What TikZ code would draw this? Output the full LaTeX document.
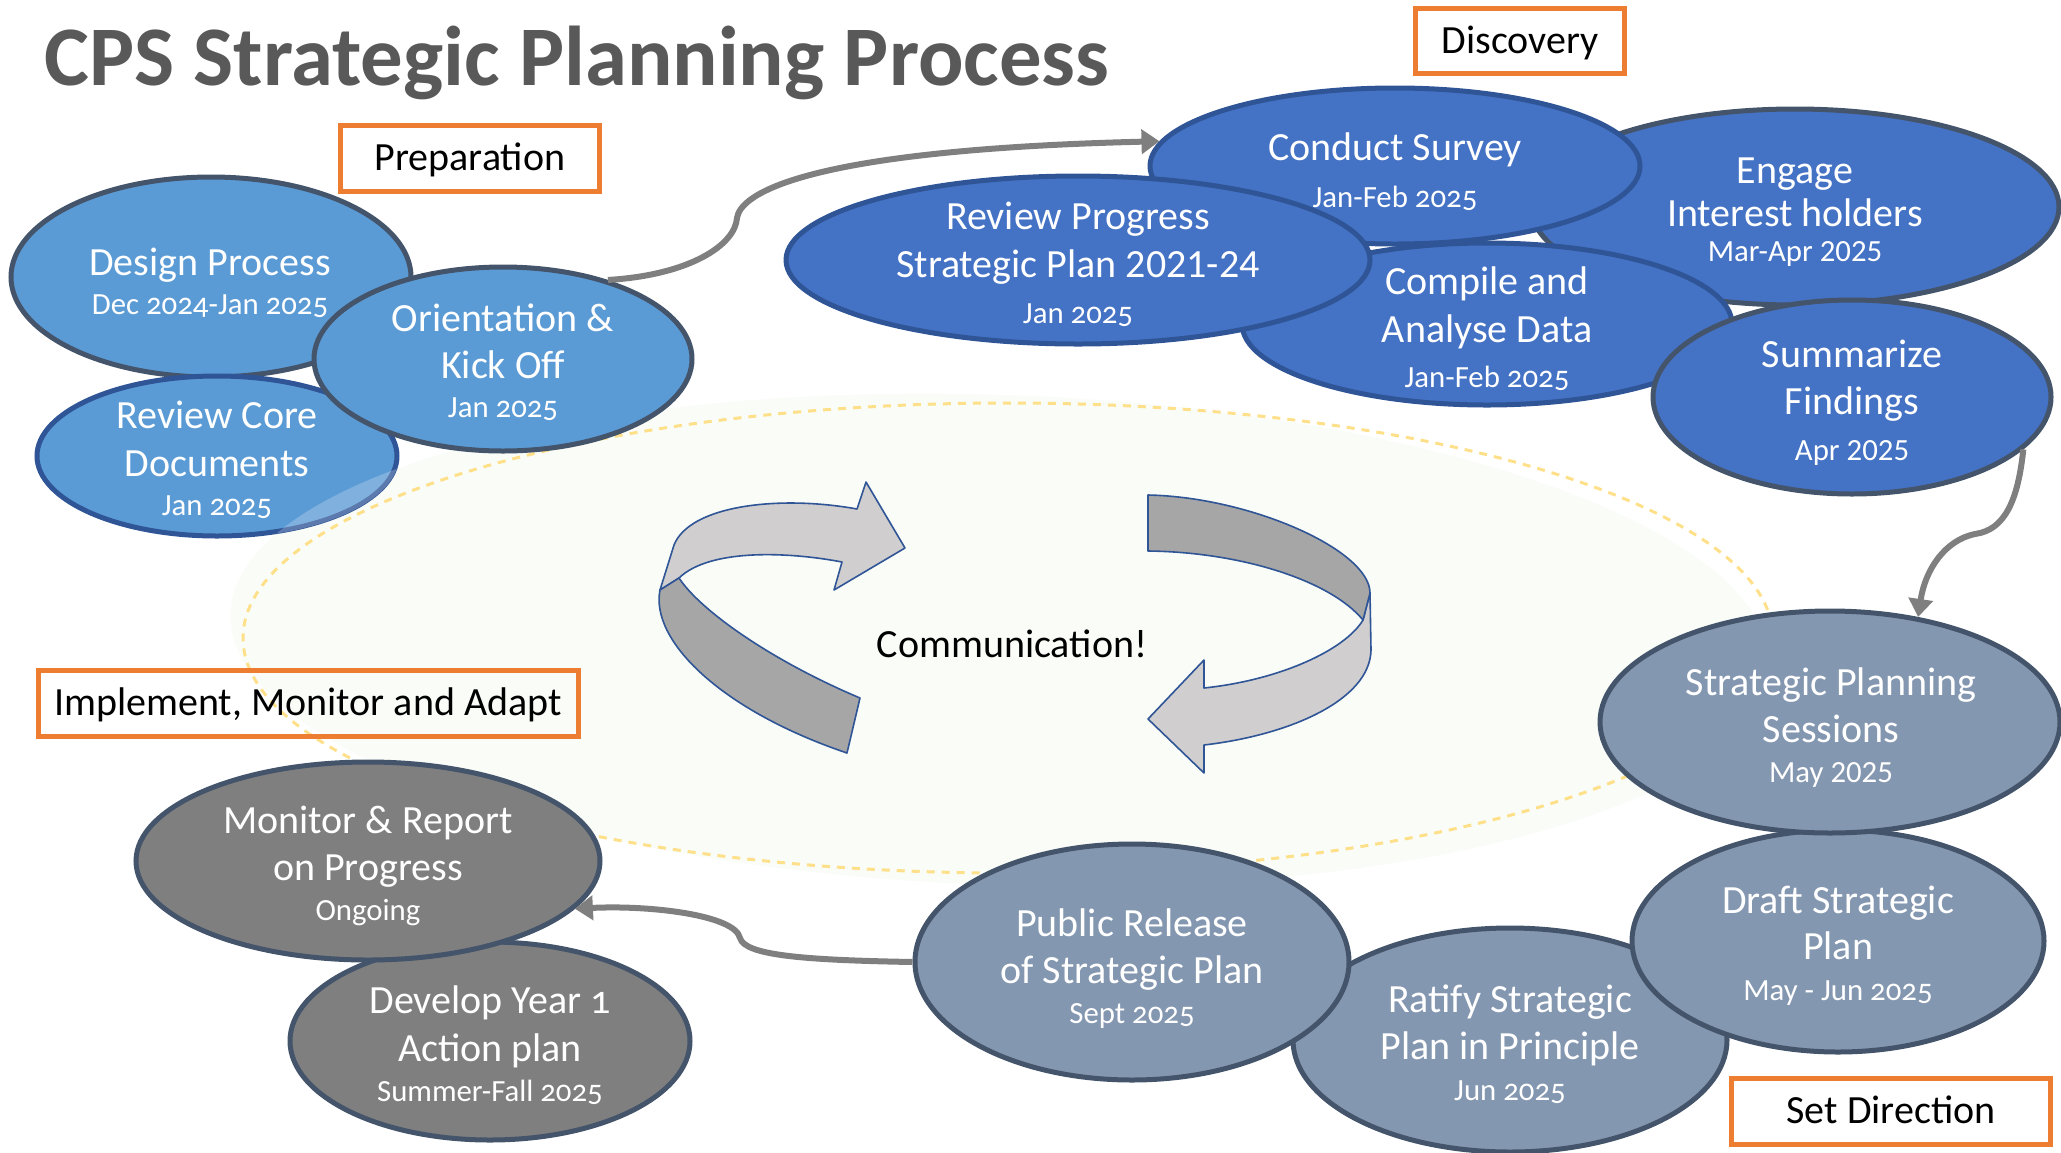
\documentclass[tikz,border=0pt]{standalone}
\usepackage{fontspec}
\setmainfont{Carlito}
\newfontfamily\oldnum[Numbers=OldStyle]{Carlito}
\usetikzlibrary{shapes.geometric,arrows.meta}
\definecolor{prepfill}{HTML}{5B9BD5}
\definecolor{discfill}{HTML}{4472C4}
\definecolor{setfill}{HTML}{8497B0}
\definecolor{implfill}{HTML}{7F7F7F}
\definecolor{slate}{HTML}{44546A}
\definecolor{navy}{HTML}{2F5597}
\definecolor{orangeb}{HTML}{ED7D31}
\definecolor{conn}{HTML}{7F7F7F}
\definecolor{titlec}{HTML}{595959}
\definecolor{dashc}{HTML}{FFE08A}
\definecolor{palebg}{RGB}{249,252,247}
\definecolor{arrlight}{HTML}{D0CECE}
\definecolor{arrdark}{HTML}{A6A6A6}
\begin{document}
\begin{tikzpicture}[x=0.5pt,y=-0.5pt,
 ell/.style={ellipse, draw, line width=2.5pt, inner sep=0pt},
 mainl/.style={text=white, inner sep=0pt, font=\fontsize{20}{24}\selectfont, text height=17pt, text depth=4pt},
 mainold/.style={mainl, font=\fontsize{20}{24}\selectfont\oldnum},
 datel/.style={text=white, inner sep=0pt, font=\fontsize{15.4}{18}\selectfont, text height=13.8pt, text depth=3.1pt},
 olddate/.style={datel, font=\fontsize{15.4}{18}\selectfont\oldnum},
 phase/.style={draw=orangeb, line width=2.5pt, inner sep=0pt, font=\fontsize{20}{24}\selectfont, text=black, text height=16.5pt, text depth=4pt},
 flow/.style={draw=conn, line width=3pt, -{Triangle[length=9pt,width=12pt]}},
 ribbon/.style={draw=navy, line width=0.8pt, line join=round}
]
\useasboundingbox (0,0) rectangle (2061,1152);

% background
\fill[palebg, rotate around={-2:(1000,640)}] (1000,640) ellipse [x radius=770, y radius=245];
\draw[dashc, line width=1.5pt, dash pattern=on 4pt off 3.5pt] (1008,638) ellipse [x radius=765, y radius=235];

% title
\node[anchor=base west, inner sep=0pt, text=titlec, font=\fontsize{42.4}{50}\selectfont\bfseries] (title) at (44,85) {CPS Strategic Planning Process};

% communication arrows
\path[ribbon, fill=arrlight] (857,509) -- (866,482) -- (905,548) -- (834,590) -- (842,562)
  .. controls (790,552) and (710,548) .. (679,578) -- (660,590) -- (674,545)
  .. controls (690,505) and (780,495) .. (857,509) -- cycle;
\path[ribbon, fill=arrdark] (660,590) .. controls (650,640) and (720,710) .. (847,753) -- (860,698)
  .. controls (770,660) and (700,610) .. (679,578) -- cycle;
\path[ribbon, fill=arrlight] (1370,593) -- (1371,650) .. controls (1370,700) and (1290,735) .. (1204,745)
  -- (1204,773) -- (1148,719) -- (1204,660) -- (1204,688)
  .. controls (1280,680) and (1345,650) .. (1363,620) -- cycle;
\path[ribbon, fill=arrdark] (1148,495) .. controls (1250,497) and (1370,550) .. (1370,593) -- (1363,620)
  .. controls (1330,580) and (1240,552) .. (1148,551) -- cycle;
\node[inner sep=0pt, font=\fontsize{20}{24}\selectfont, text=black] (comm) at (1012,644) {Communication!};

% phase labels
\node[phase, minimum width=129.5pt, minimum height=33pt] (prep) at (470,158) {Preparation};
\node[phase, minimum width=104.5pt, minimum height=32.5pt] (disc) at (1520,41) {Discovery};
\node[phase, minimum width=270pt, minimum height=33pt] (impl) at (308,703) {Implement, Monitor and Adapt};
\node[phase, minimum width=159.5pt, minimum height=33pt] (setd) at (1891,1111) {Set Direction};

% Preparation
\node[ell, fill=prepfill, draw=slate, minimum width=200pt, minimum height=100pt] (design) at (211,277) {};
\node[ell, fill=prepfill, draw=navy, minimum width=180pt, minimum height=80pt] (revcore) at (217,456) {};
\begin{scope}
\clip (217,456) ellipse [x radius=182, y radius=82];
\fill[white, opacity=0.22, rotate around={-2:(1000,640)}] (1000,640) ellipse [x radius=770, y radius=245];
\end{scope}
\node[ell, fill=prepfill, draw=slate, minimum width=189pt, minimum height=92pt] (orient) at (503,359) {};
\node[mainl] (design1) at (210,262) {Design Process};
\node[olddate] (design2) at (210,304) {Dec 2024-Jan 2025};
\node[mainl] (revcore1) at (217,415) {Review Core};
\node[mainl] (revcore2) at (217,463) {Documents};
\node[olddate] (revcore3) at (217,505) {Jan 2025};
\node[mainl] (orient1) at (503,318) {Orientation \&};
\node[mainl] (orient2) at (503,365) {Kick Off};
\node[olddate] (orient3) at (503,407) {Jan 2025};

% Discovery
\node[ell, fill=discfill, draw=slate, minimum width=264pt, minimum height=98pt] (engage) at (1795,207) {};
\node[ell, fill=discfill, draw=navy, minimum width=245pt, minimum height=81pt] (compile) at (1487,324) {};
\node[ell, fill=discfill, draw=navy, minimum width=245pt, minimum height=78pt] (conduct) at (1395,166) {};
\node[ell, fill=discfill, draw=navy, minimum width=292pt, minimum height=84pt] (revprog) at (1078,260) {};
\node[ell, fill=discfill, draw=slate, minimum width=199pt, minimum height=97pt] (summ) at (1852,397) {};
\node[mainl] (engage1) at (1795,170) {Engage};
\node[mainl] (engage2) at (1795,213) {Interest holders};
\node[datel] (engage3) at (1795,251) {Mar-Apr 2025};
\node[mainl] (compile1) at (1487,281) {Compile and};
\node[mainl] (compile2) at (1487,329) {Analyse Data};
\node[olddate] (compile3) at (1487,377) {Jan-Feb 2025};
\node[mainl] (conduct1) at (1395,147) {Conduct Survey};
\node[olddate] (conduct2) at (1395,197) {Jan-Feb 2025};
\node[mainl] (revprog1) at (1078,216) {Review Progress};
\node[mainl] (revprog2) at (1078,264) {Strategic Plan 2021-24};
\node[olddate] (revprog3) at (1078,313) {Jan 2025};
\node[mainl] (summ1) at (1852,354) {Summarize};
\node[mainl] (summ2) at (1852,401) {Findings};
\node[datel] (summ3) at (1852,450) {Apr 2025};

% Set Direction
\node[ell, fill=setfill, draw=slate, minimum width=217pt, minimum height=112pt] (ratify) at (1510,1040) {};
\node[ell, fill=setfill, draw=slate, minimum width=206pt, minimum height=111pt] (draft) at (1838,941) {};
\node[ell, fill=setfill, draw=slate, minimum width=230pt, minimum height=111pt] (strat) at (1830,722) {};
\node[ell, fill=setfill, draw=slate, minimum width=217pt, minimum height=118pt] (public) at (1132,962) {};
\node[mainl] (ratify1) at (1510,999) {Ratify Strategic};
\node[mainl] (ratify2) at (1510,1046) {Plan in Principle};
\node[olddate] (ratify3) at (1510,1090) {Jun 2025};
\node[mainl] (draft1) at (1838,900) {Draft Strategic};
\node[mainl] (draft2) at (1838,946) {Plan};
\node[olddate] (draft3) at (1838,990) {May - Jun 2025};
\node[mainl] (strat1) at (1831,682) {Strategic Planning};
\node[mainl] (strat2) at (1831,729) {Sessions};
\node[datel] (strat3) at (1831,772) {May 2025};
\node[mainl] (public1) at (1132,923) {Public Release};
\node[mainl] (public2) at (1132,970) {of Strategic Plan};
\node[olddate] (public3) at (1132,1013) {Sept 2025};

% Implement
\node[ell, fill=implfill, draw=slate, minimum width=200pt, minimum height=99pt] (develop) at (490,1041) {};
\node[ell, fill=implfill, draw=slate, minimum width=232pt, minimum height=99pt] (monitor) at (368,861) {};
\node[mainold] (develop1) at (490,1000) {Develop Year 1};
\node[mainl] (develop2) at (490,1048) {Action plan};
\node[olddate] (develop3) at (490,1091) {Summer-Fall 2025};
\node[mainl] (monitor1) at (368,820) {Monitor \& Report};
\node[mainl] (monitor2) at (368,867) {on Progress};
\node[datel] (monitor3) at (368,910) {Ongoing};

% connectors
\draw[flow] (orient.37) .. controls (690,275) and (735,245) .. (737,218)
  .. controls (740,195) and (800,150) .. (conduct.174);
\draw[flow] (summ.-17) .. controls (2018,500) and (2005,530) .. (1975,534)
  .. controls (1945,540) and (1925,570) .. (strat.50);
\draw[flow] (public.180) .. controls (800,960) and (745,955) .. (740,938)
  .. controls (735,915) and (650,905) .. (monitor.-13);
\end{tikzpicture}
\end{document}
